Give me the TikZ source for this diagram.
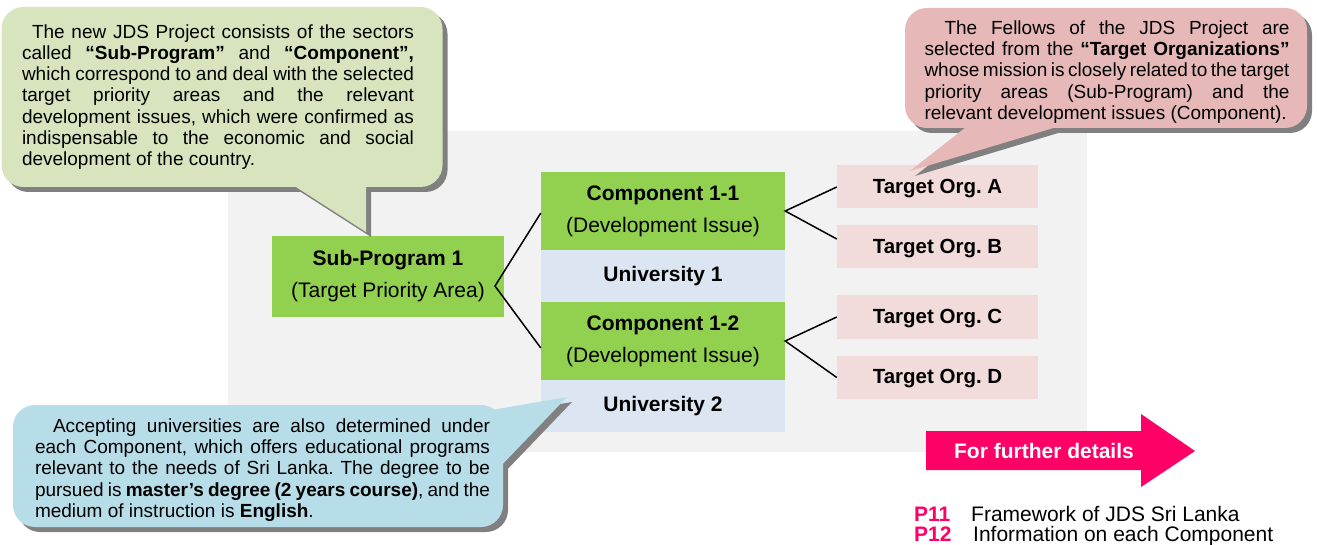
\documentclass[tikz,border=0pt]{standalone}
\usepackage{fontspec}
\setmainfont{Liberation Sans}
\usepackage{tikz}
\usetikzlibrary{shadows}

\definecolor{bggray}{RGB}{242,242,242}
\definecolor{shadowgray}{RGB}{128,128,128}
\definecolor{greencall}{RGB}{215,228,189}
\definecolor{pinkcall}{RGB}{230,185,184}
\definecolor{bluecall}{RGB}{183,221,232}
\definecolor{boxgreen}{RGB}{146,208,80}
\definecolor{univblue}{RGB}{220,230,242}
\definecolor{orgpink}{RGB}{242,220,219}
\definecolor{hotpink}{RGB}{255,0,102}

\hyphenpenalty=10000
\exhyphenpenalty=10000

\begin{document}
\frenchspacing
\begin{tikzpicture}[x=1pt, y=-1pt,
    callout/.style={rounded corners=22pt, inner sep=0pt,
        drop shadow={shadow xshift=5pt, shadow yshift=-5pt, fill=shadowgray, opacity=1}},
    callouttext/.style={inner sep=0pt, align=justify, font=\fontsize{19}{21.3}\selectfont},
    greenbox/.style={fill=boxgreen, inner sep=0pt, align=center,
        font=\fontsize{21}{32}\selectfont},
    univbox/.style={fill=univblue, inner sep=0pt, minimum width=244pt, minimum height=52pt,
        font=\fontsize{21}{24}\selectfont\bfseries},
    orgbox/.style={fill=orgpink, inner sep=0pt, minimum width=201pt, minimum height=43pt,
        text height=17pt, font=\fontsize{20.5}{24}\selectfont\bfseries},
    link/.style={line width=1.5pt},
    reftext/.style={anchor=base west, inner sep=0pt, font=\fontsize{21}{24}\selectfont}]
    \useasboundingbox (0,0) rectangle (1317,545);

    % grey panel
    \fill[bggray] (228,131) rectangle (1087,452);

    % main column
    \node[greenbox, minimum width=232pt, minimum height=81pt] at (388,276.5) (sp) {\textbf{Sub-Program 1}\\(Target Priority Area)};
    \node[greenbox, minimum width=244pt, minimum height=78pt] at (663,211) (c11) {\textbf{Component 1-1}\\(Development Issue)};
    \node[univbox] at (663,276) (u1) {University 1};
    \node[greenbox, minimum width=244pt, minimum height=78pt] at (663,341) (c12) {\textbf{Component 1-2}\\(Development Issue)};
    \node[univbox] at (663,406) (u2) {University 2};

    \node[orgbox] at (937.5,187) (ta) {Target Org. A};
    \node[orgbox] at (937.5,247) (tb) {Target Org. B};
    \node[orgbox] at (937.5,317) (tc) {Target Org. C};
    \node[orgbox] at (937.5,377.5) (td) {Target Org. D};

    \coordinate (spv) at (495,286);
    \draw[link] ([yshift=-2pt]c11.west) -- (spv) -- ([yshift=-7pt]c12.west);
    \draw[link] (ta.west) -- (c11.east) -- ([yshift=8pt]tb.west);
    \draw[link] (tc.west) -- (c12.east) -- (td.west);

    % callout: sectors
    \fill[shadowgray, shift={(5,5)}] (285,180) -- (366,232) -- (366,180) -- cycle;
    \node[callout, fill=greencall, minimum width=441pt, minimum height=180pt] at (222,97) (gcall) {};
    \fill[greencall] (285,180) -- (366,232) -- (366,180) -- cycle;
    \node[callouttext, text width=392pt] at (218,97) (gtext)
        {\hspace*{10pt}The new JDS Project consists of the sectors\linebreak called \textbf{“Sub-Program”} and \textbf{“Component”,}\linebreak which correspond to and deal with the selected\linebreak target priority areas and the relevant\linebreak development issues, which were confirmed as\linebreak indispensable to the economic and social\linebreak development of the country.};

    % callout: fellows
    \fill[shadowgray, shift={(5,5)}] (975,120) -- (910,171) -- (1080,120) -- cycle;
    \node[callout, fill=pinkcall, minimum width=402pt, minimum height=120pt] at (1106,68) (pcall) {};
    \fill[pinkcall] (975,120) -- (910,171) -- (1080,120) -- cycle;
    \node[callouttext, text width=365pt] at (1107,72) (ptext)
        {\hspace*{20pt}The Fellows of the JDS Project are\linebreak selected from the \textbf{“Target Organizations”}\linebreak whose mission is closely related to the target\linebreak priority areas (Sub-Program) and the\linebreak relevant development issues (Component).};

    % callout: universities
    \fill[shadowgray, shift={(5,5)}] (480,412) -- (567,397) -- (497,470) -- cycle;
    \node[callout, fill=bluecall, minimum width=490pt, minimum height=122pt] at (258,466) (bcall) {};
    \fill[bluecall] (480,412) -- (567,397) -- (497,470) -- cycle;
    \node[callouttext, text width=455pt] at (262.5,470) (btext)
        {\hspace*{18pt}Accepting universities are also determined under\linebreak each Component, which offers educational programs\linebreak relevant to the needs of Sri Lanka. The degree to be\linebreak pursued is \textbf{master’s degree (2 years course)}, and the\linebreak medium of instruction is \textbf{English}.};

    % further details arrow
    \fill[hotpink] (926,431) -- (1141,431) -- (1141,414) -- (1195,451) -- (1141,487) -- (1141,470) -- (926,470) -- cycle;
    \node[text=white, inner sep=0pt, font=\fontsize{21}{24}\selectfont\bfseries] at (1044,451) (more) {For further details};

    \node[reftext, text=hotpink, font=\fontsize{21}{24}\selectfont\bfseries] at (914,521) (p11) {P11};
    \node[reftext] at (971,521) (p11t) {Framework of JDS Sri Lanka};
    \node[reftext, text=hotpink, font=\fontsize{21}{24}\selectfont\bfseries] at (914,541) (p12) {P12};
    \node[reftext] at (973,541) (p12t) {Information on each Component};
\end{tikzpicture}
\end{document}
